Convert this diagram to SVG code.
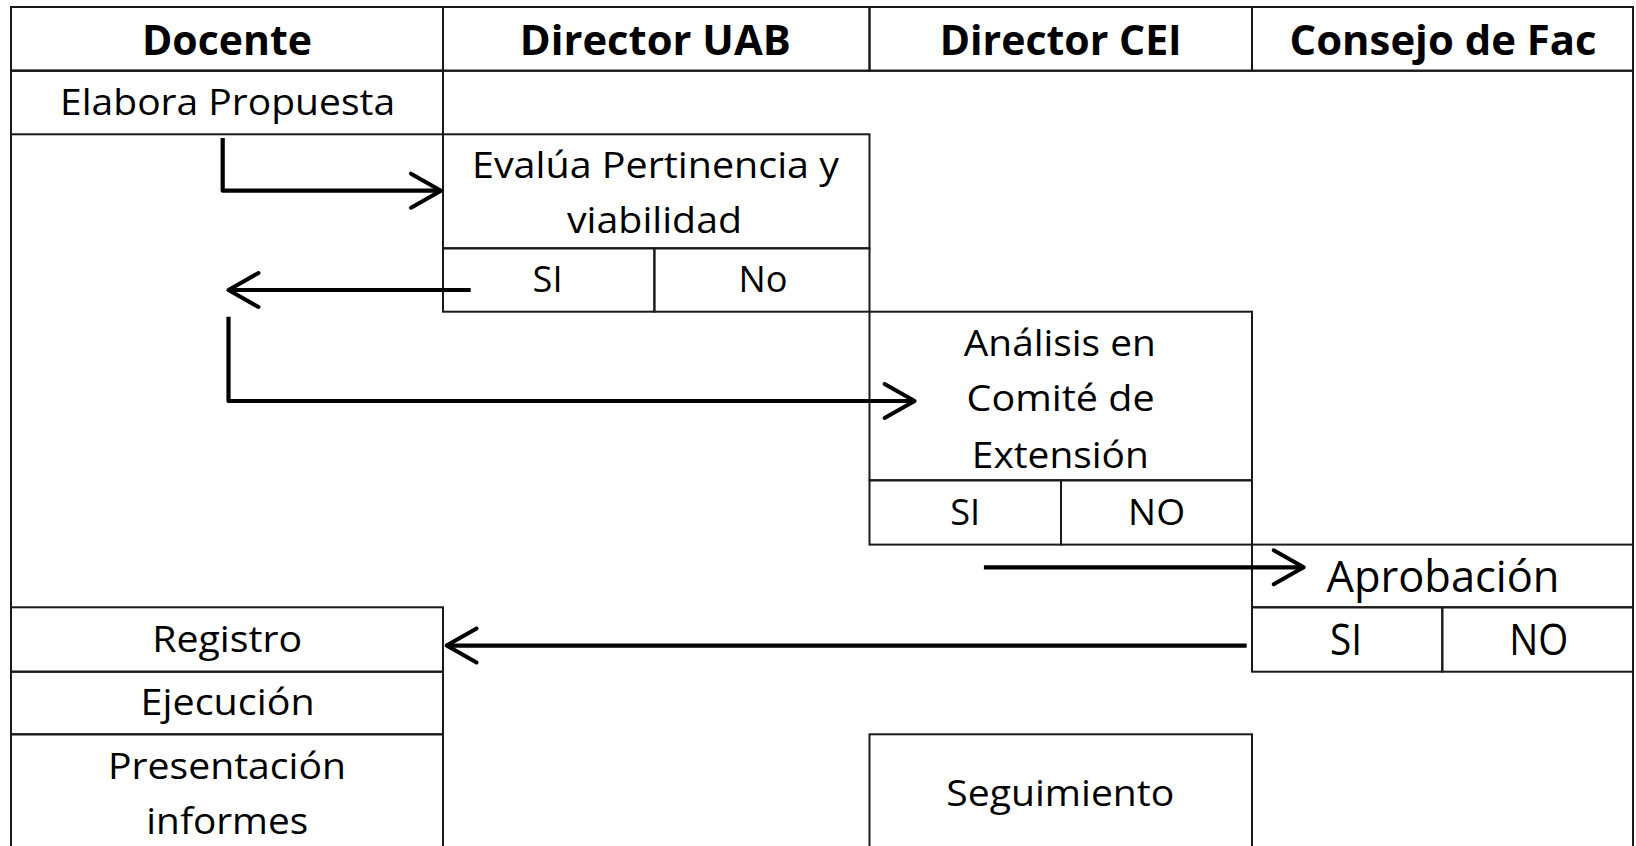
<svg xmlns="http://www.w3.org/2000/svg" width="1636" height="846" viewBox="0 0 1636 846">
<style>
.c{fill:none;stroke:#1a1a1a;stroke-width:2}
.t{font-family:"Open Sans","Noto Sans",sans-serif;font-size:37px;fill:#000;text-anchor:middle}
.h{font-weight:bold;font-size:42px}
.b{font-size:43px}
.a{fill:none;stroke:#000;stroke-width:4.2;stroke-linejoin:round}
</style>
<defs>
<marker id="chev" markerUnits="userSpaceOnUse" viewBox="-36 -22 40 44" refX="0" refY="0" markerWidth="40" markerHeight="44" orient="auto">
<path d="M-30,-17 L0,0 L-30,17" fill="none" stroke="#000" stroke-width="4" stroke-linecap="round" stroke-linejoin="round"/>
</marker>
</defs>
<rect x="0" y="0" width="1636" height="846" fill="#fff"/>
<g id="lanes">
<rect class="c" x="11" y="7" width="1622" height="900"/>
<line class="c" x1="11" y1="70.7" x2="1633" y2="70.7"/>
</g>
<g id="h-docente"><rect class="c" x="11" y="7" width="432" height="63.7"/><text class="t h" x="227" y="55" textLength="170" lengthAdjust="spacingAndGlyphs">Docente</text></g>
<g id="h-uab"><rect class="c" x="443" y="7" width="426.5" height="63.7"/><text class="t h" x="655.3" y="55" textLength="271" lengthAdjust="spacingAndGlyphs">Director UAB</text></g>
<g id="h-cei"><rect class="c" x="869.5" y="7" width="382.5" height="63.7"/><text class="t h" x="1060.7" y="55" textLength="242" lengthAdjust="spacingAndGlyphs">Director CEI</text></g>
<g id="h-consejo"><rect class="c" x="1252" y="7" width="381" height="63.7"/><text class="t h" x="1443" y="55" textLength="307" lengthAdjust="spacingAndGlyphs">Consejo de Fac</text></g>
<g id="elabora"><rect class="c" x="11" y="70.7" width="432" height="63.6"/><text class="t" x="227.6" y="115" textLength="335" lengthAdjust="spacingAndGlyphs">Elabora Propuesta</text></g>
<g id="evalua">
<rect class="c" x="443" y="134.3" width="426.5" height="114"/>
<text class="t" x="655.5" y="178.3" textLength="367" lengthAdjust="spacingAndGlyphs">Evalúa Pertinencia y</text>
<text class="t" x="654.5" y="233.3" textLength="175" lengthAdjust="spacingAndGlyphs">viabilidad</text>
<rect class="c" x="443" y="248.3" width="211.4" height="63.4"/>
<rect class="c" x="654.4" y="248.3" width="215.1" height="63.4"/>
<text class="t" x="547.6" y="291.7" textLength="30" lengthAdjust="spacingAndGlyphs">SI</text>
<text class="t" x="763" y="291.7" textLength="49" lengthAdjust="spacingAndGlyphs">No</text>
</g>
<g id="analisis">
<rect class="c" x="869.5" y="311.7" width="382.5" height="168.6"/>
<text class="t" x="1059.8" y="355.7" textLength="192" lengthAdjust="spacingAndGlyphs">Análisis en</text>
<text class="t" x="1060.6" y="411.4" textLength="188" lengthAdjust="spacingAndGlyphs">Comité de</text>
<text class="t" x="1060.3" y="467.7" textLength="177" lengthAdjust="spacingAndGlyphs">Extensión</text>
<rect class="c" x="869.5" y="480.3" width="191.5" height="64.3"/>
<rect class="c" x="1061" y="480.3" width="191" height="64.3"/>
<text class="t" x="965.2" y="524.5" textLength="30" lengthAdjust="spacingAndGlyphs">SI</text>
<text class="t" x="1156.6" y="524.5" textLength="57" lengthAdjust="spacingAndGlyphs">NO</text>
</g>
<g id="aprobacion">
<rect class="c" x="1252" y="544.6" width="381" height="62.7"/>
<text class="t b" x="1443" y="592.3" textLength="233" lengthAdjust="spacingAndGlyphs">Aprobación</text>
<rect class="c" x="1252" y="607.3" width="190.3" height="64.4"/>
<rect class="c" x="1442.3" y="607.3" width="190.7" height="64.4"/>
<text class="t b" x="1346" y="655" textLength="32" lengthAdjust="spacingAndGlyphs">SI</text>
<text class="t b" x="1538.8" y="655" textLength="59" lengthAdjust="spacingAndGlyphs">NO</text>
</g>
<g id="registro"><rect class="c" x="11" y="607.3" width="432" height="64.4"/><text class="t" x="227.2" y="651.5" textLength="150" lengthAdjust="spacingAndGlyphs">Registro</text></g>
<g id="ejecucion"><rect class="c" x="11" y="671.7" width="432" height="62.6"/><text class="t" x="227.6" y="715.2" textLength="174" lengthAdjust="spacingAndGlyphs">Ejecución</text></g>
<g id="presentacion"><rect class="c" x="11" y="734.3" width="432" height="140"/>
<text class="t" x="227" y="778.5" textLength="238" lengthAdjust="spacingAndGlyphs">Presentación</text>
<text class="t" x="227.3" y="834" textLength="162" lengthAdjust="spacingAndGlyphs">informes</text></g>
<g id="seguimiento"><rect class="c" x="869.5" y="734.3" width="382.5" height="140"/><text class="t" x="1060.3" y="806" textLength="228" lengthAdjust="spacingAndGlyphs">Seguimiento</text></g>
<g id="connectors">
<path class="a" d="M222.7,138 V190.7 H441" marker-end="url(#chev)"/>
<path class="a" d="M470.7,290 H228.5" marker-end="url(#chev)"/>
<path class="a" d="M228.5,316.7 V401 H914.6" marker-end="url(#chev)"/>
<path class="a" d="M983.9,567.3 H1303.7" marker-end="url(#chev)"/>
<path class="a" d="M1246.7,645.6 H446.6" marker-end="url(#chev)"/>
</g>
</svg>
